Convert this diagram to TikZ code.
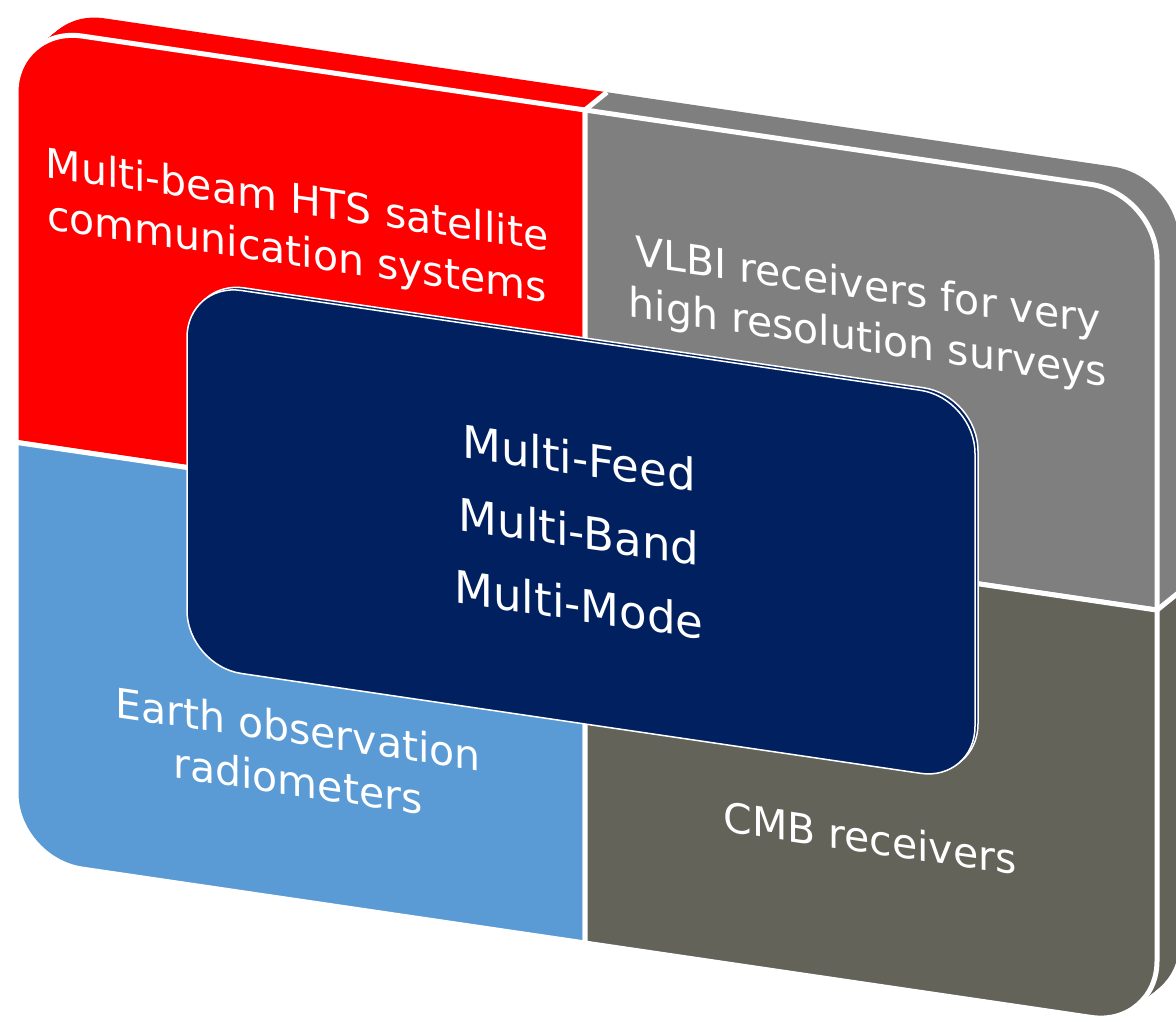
\documentclass[tikz,border=0pt]{standalone}
\usepackage{fontspec}
\setmainfont{DejaVu Sans}
\definecolor{htsred}{HTML}{FF0000}
\definecolor{vlbigray}{HTML}{7F7F7F}
\definecolor{eoblue}{HTML}{5B9BD5}
\definecolor{cmbgray}{HTML}{63635A}
\definecolor{corenavy}{HTML}{002060}

\begin{document}
\begin{tikzpicture}[x=1.0pt, y=1.0pt,
	face/.style={draw=white, line width=5, line join=round},
	quadtext/.style={white, align=center, transform shape, font=\fontsize{41}{52}\selectfont},
	coretext/.style={white, align=center, transform shape, font=\fontsize{45}{73}\selectfont}]
	\useasboundingbox (0,0) rectangle (1176,-1022);

	\begin{scope}[yslant=-0.147]
	% depth of the blocks, back to front
	\foreach \t in {24,23,...,1} {
		\begin{scope}[shift={(\t*22/24,\t*21/24)}]
		\fill [htsred] (16,-440) -- (16,-90) arc[start angle=180, end angle=90, radius=66] -- (585,-24) -- (585,-440) -- cycle;
		\fill [vlbigray] (585,-24) -- (1091,-24) arc[start angle=90, end angle=0, radius=66] -- (1157,-440) -- (585,-440) -- cycle;
		\fill [eoblue] (16,-440) -- (585,-440) -- (585,-857) -- (82,-857) arc[start angle=270, end angle=180, radius=66] -- cycle;
		\fill [cmbgray] (585,-440) -- (1157,-440) -- (1157,-791) arc[start angle=0, end angle=-90, radius=66] -- (585,-857) -- cycle;
		\end{scope}
	}
	\draw [white, line width=5] (585,-24) -- ++(22,21);
	\draw [white, line width=5] (1157,-440) -- ++(22,21);

	% front faces
	\fill [htsred, face] (16,-440) -- (16,-90) arc[start angle=180, end angle=90, radius=66] -- (585,-24) -- (585,-440) -- cycle;
	\fill [vlbigray, face] (585,-24) -- (1091,-24) arc[start angle=90, end angle=0, radius=66] -- (1157,-440) -- (585,-440) -- cycle;
	\fill [eoblue, face] (16,-440) -- (585,-440) -- (585,-857) -- (82,-857) arc[start angle=270, end angle=180, radius=66] -- cycle;
	\fill [cmbgray, face] (585,-440) -- (1157,-440) -- (1157,-791) arc[start angle=0, end angle=-90, radius=66] -- (585,-857) -- cycle;

	% centre box
	\filldraw [fill=corenavy, draw=white, line width=1.5, rounded corners=55] (190,-252) rectangle (978,-635);
	\filldraw [fill=corenavy, draw=white, line width=1.5, rounded corners=55] (187,-255) rectangle (975,-638);

	\node [quadtext] (hts) at (297,-185) {Multi-beam HTS satellite\\communication systems};
	\node [quadtext] (vlbi) at (868,-187) {VLBI receivers for very\\high resolution surveys};
	\node [quadtext] (eo) at (298,-711) {Earth observation\\radiometers};
	\node [quadtext] (cmb) at (870,-710) {CMB receivers};
	\node [coretext] (core) at (579,-446) {Multi-Feed\\Multi-Band\\Multi-Mode};
	\end{scope}
\end{tikzpicture}
\end{document}
